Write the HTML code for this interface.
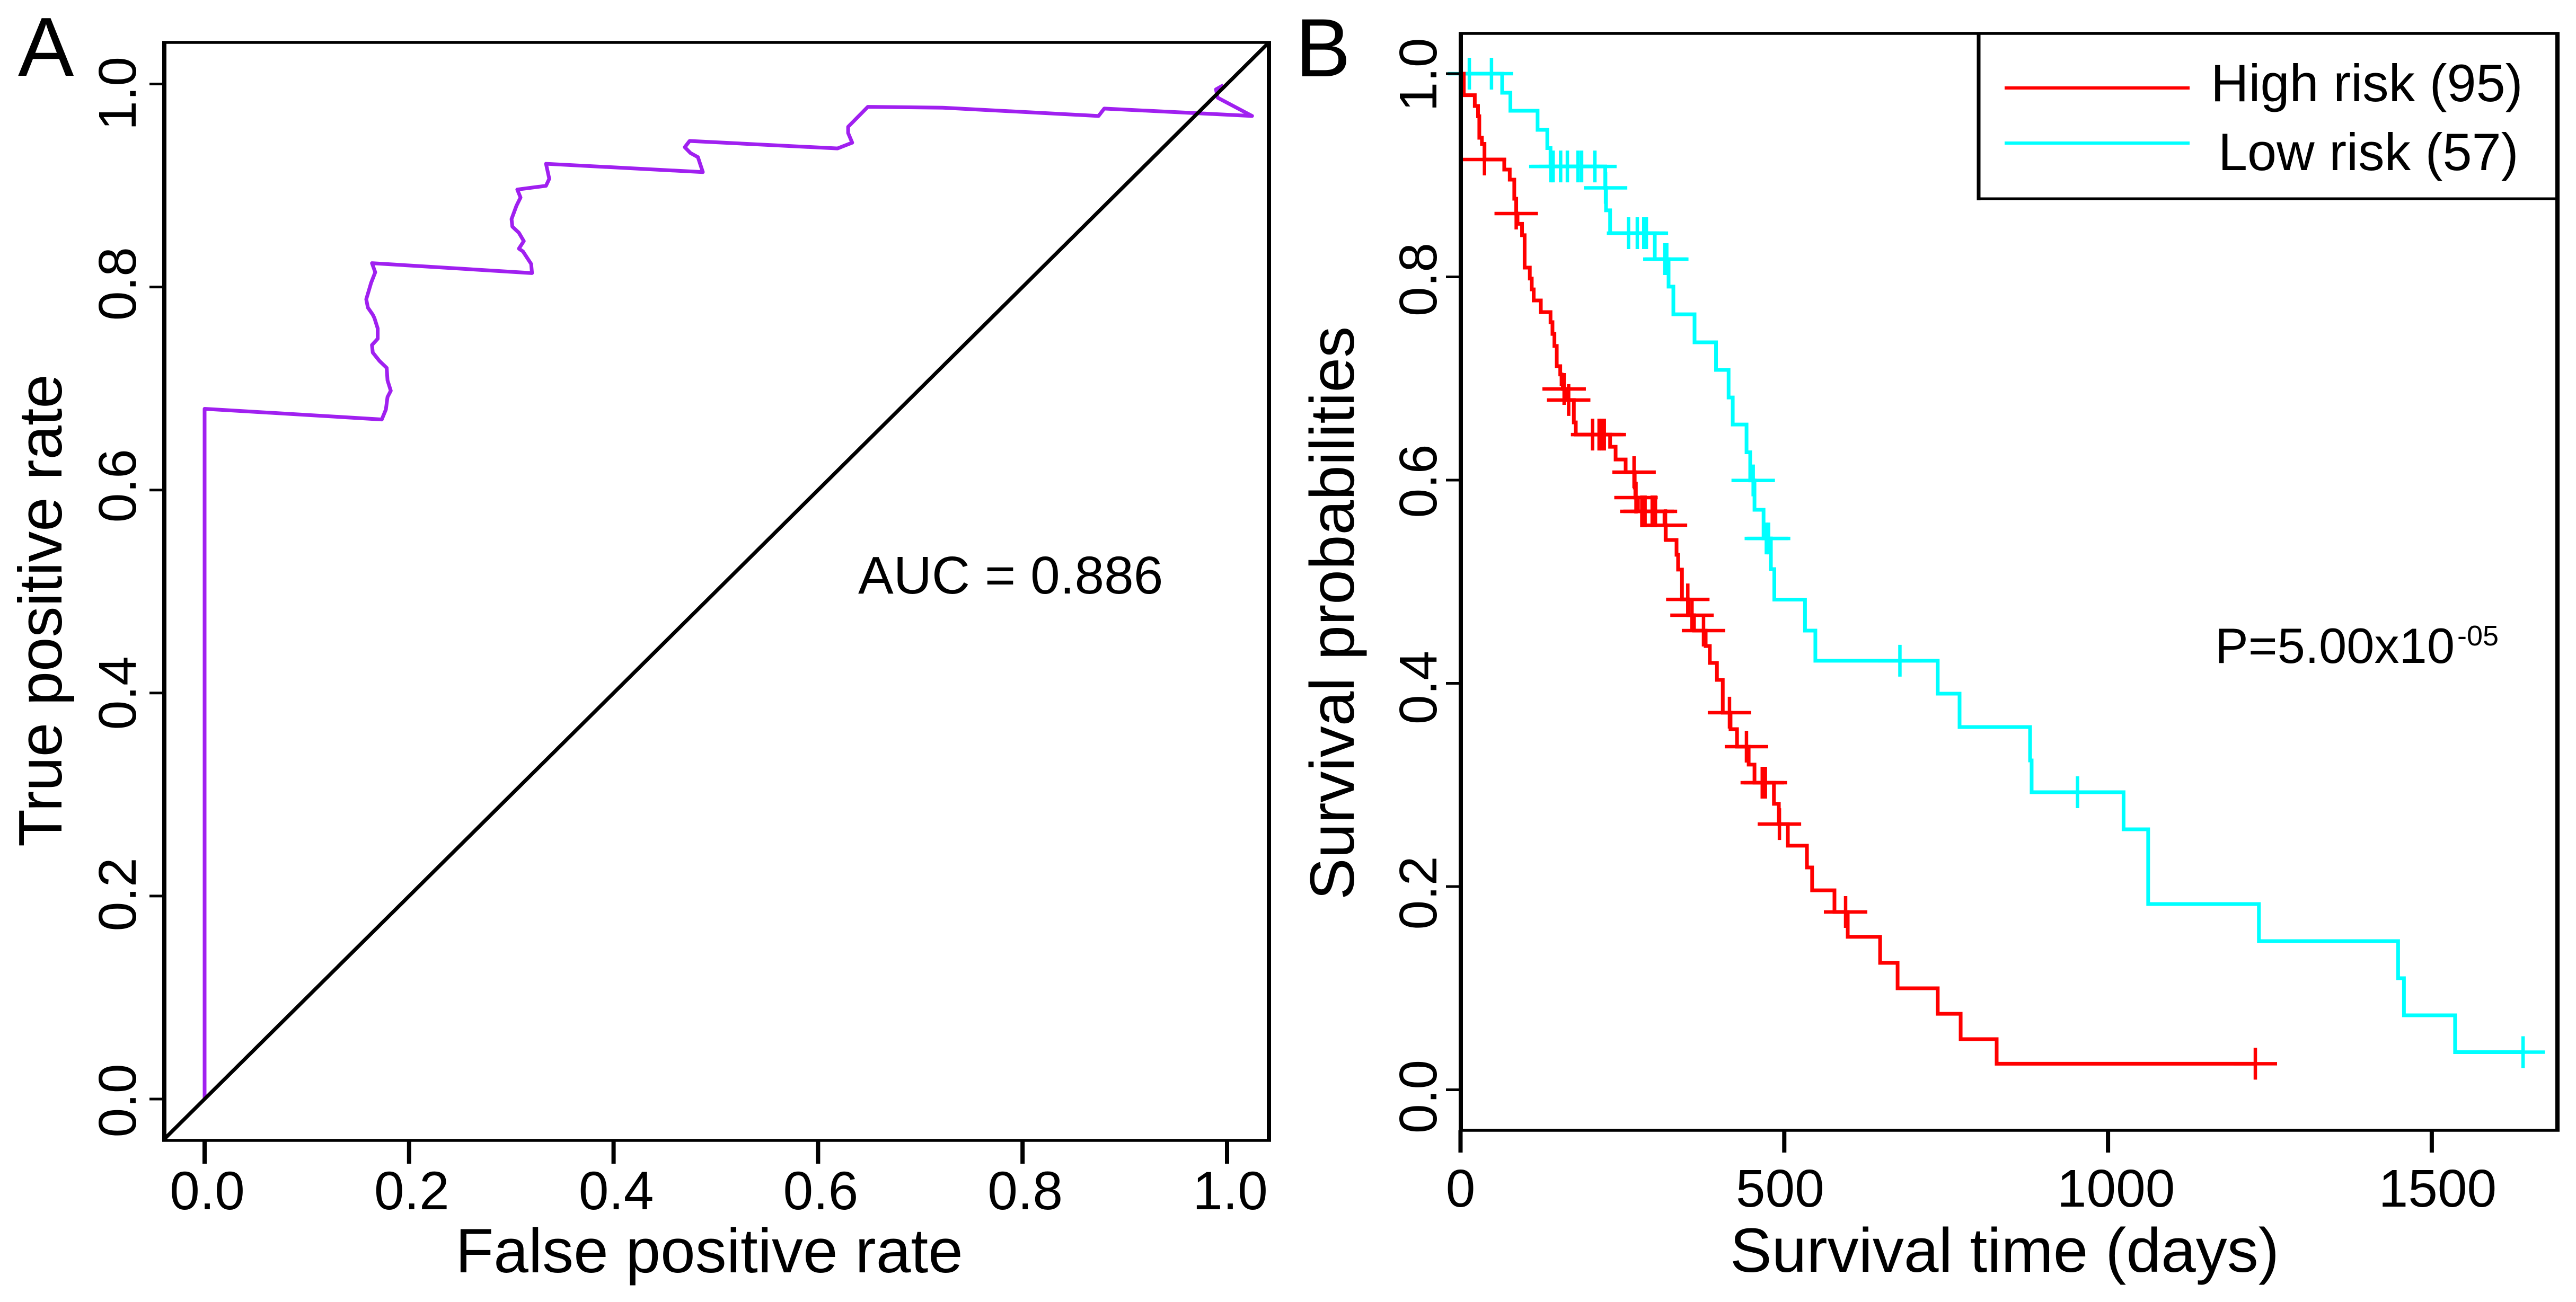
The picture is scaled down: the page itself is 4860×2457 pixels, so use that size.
<!DOCTYPE html>
<html lang="en">
<head>
<meta charset="utf-8">
<title>ROC curve and survival curves</title>
<style>
html,body{margin:0;padding:0;background:#fff;}
svg{display:block;}
text{font-family:"Liberation Sans",Arial,sans-serif;fill:#000;}
</style>
</head>
<body>
<svg id="fig" xmlns="http://www.w3.org/2000/svg" width="4860" height="2457" viewBox="0 0 4860 2457">
  <rect x="0" y="0" width="4860" height="2457" fill="#fff"/>
  <text x="34" y="143" font-size="158">A</text>
  <text x="2444" y="144" font-size="156">B</text>

  <g id="panelA"></g>
  <g id="panelB"></g>

  <text x="1338" y="2401" font-size="118" text-anchor="middle">False positive rate</text>
  <text x="116" y="1152" font-size="116" text-anchor="middle" transform="rotate(-90 116 1152)">True positive rate</text>
  <text x="1619" y="1120" font-size="100">AUC = 0.886</text>

  <text x="3264" y="2400" font-size="118">Survival time (days)</text>
  <text x="2554" y="1157" font-size="118" text-anchor="middle" transform="rotate(-90 2554 1157)">Survival probabilities</text>

  <text x="4179" y="1251" font-size="94">P=5.00x10</text>
  <text x="4636" y="1218" font-size="54">-05</text>

  <g>
    <line x1="3733" y1="63" x2="3733" y2="378" stroke="#000" stroke-width="7"/>
    <line x1="3730" y1="375" x2="4825" y2="375" stroke="#000" stroke-width="5"/>
    <line x1="3782" y1="166" x2="4131" y2="166" stroke="#ff0000" stroke-width="6"/>
    <line x1="3782" y1="270" x2="4131" y2="270" stroke="#00ffff" stroke-width="6"/>
    <text x="4171" y="191" font-size="99">High risk (95)</text>
    <text x="4185" y="321" font-size="99">Low risk (57)</text>
  </g>
</svg>
<script>
// ROC data
const rocFpr = [0,0,0.1733,0.1773,0.1789,0.1821,0.1789,0.1781,0.1709,0.1645,0.1637,0.1693,0.1693,0.1661,0.1645,0.1597,0.1581,0.1629,0.1669,0.1637,0.3202,0.3194,0.3114,0.3074,0.3122,0.3074,0.3010,0.3002,0.3050,0.3090,0.3058,0.3339,0.3371,0.3339,0.4873,0.4825,0.4752,0.4696,0.4744,0.6190,0.6334,0.6294,0.6294,0.6487,0.7234,0.8743,0.8799,1.0245,0.9908,0.9892,0.9964];
const rocTpr = [0,0.680,0.6695,0.6793,0.6916,0.6978,0.7080,0.7203,0.7273,0.7354,0.7428,0.7490,0.7592,0.7694,0.7727,0.7797,0.7879,0.8042,0.8145,0.8235,0.8137,0.8227,0.8350,0.8378,0.8452,0.8534,0.8595,0.8669,0.8800,0.8882,0.8960,0.8997,0.9066,0.9214,0.9132,0.9279,0.9320,0.9377,0.9439,0.9365,0.9422,0.9517,0.9578,0.9775,0.9766,0.9685,0.9758,0.9685,0.9865,0.9947,0.9988];
const diagonalEnds = [-0.04,1.04];
const rocTicks = [0,0.2,0.4,0.6,0.8,1];
const rocTickLabels = ["0.0","0.2","0.4","0.6","0.8","1.0"];

// Survival data
const highTimes = [5,22,27,29,33,37,67.5,76,83,86,88,95,99,107,110,113,124,139,142,145,148.6,154,156,158,164,175,178,231,239.5,255,269,270,274,315,317,333.6,336,342,351.6,360.6,378.6,385,396,405,417,427,445,454,484,491.6,505.5,535,543,577.5,598,648,675,737,772.4,828];
const highSurv  = [0.9788,0.9682,0.9581,0.9369,0.9309,0.9155,0.9056,0.8957,0.8769,0.8623,0.8522,0.8410,0.8091,0.7984,0.7877,0.7768,0.7653,0.7554,0.7439,0.7320,0.7121,0.7040,0.6944,0.6897,0.6788,0.6568,0.6448,0.6328,0.6203,0.6078,0.5927,0.5828,0.5692,0.5556,0.5411,0.5265,0.5119,0.4826,0.4670,0.4519,0.4367,0.4201,0.4034,0.3711,0.3549,0.3377,0.3200,0.3022,0.2814,0.2615,0.2402,0.2188,0.1963,0.1750,0.1505,0.1249,0.0999,0.0748,0.0498,0.0256];
const highCensor = [37,86,160,167,204,214,218,222,268,271,280,285,296,301,316.5,351,357.5,375.3,415.4,441.6,466,470.8,492.5,594.7,1227.5];
const lowTimes = [64.3,77,119,134,139,223.5,224.7,231,300,321.3,328.7,361.4,394.6,414,420.4,441.7,447.4,454,468,479.3,484.6,532,548,737,770.7,879.6,882,1024,1062,1233,1448,1457,1536];
const lowSurv  = [0.9812,0.9635,0.9447,0.9267,0.9087,0.8876,0.8655,0.8430,0.8175,0.7904,0.7632,0.7356,0.7085,0.6813,0.6547,0.6274,0.5997,0.5708,0.5426,0.5124,0.4824,0.4519,0.4222,0.3898,0.3570,0.3241,0.2928,0.2563,0.1828,0.1463,0.1098,0.0733,0.0370];
const lowCensor = [13.6,47.8,139.5,143,154.6,165,181.5,187,207.5,224,259.5,273,283,287,315.6,318.5,452,472.3,475.8,678.6,952.9,1641];
const survXTicks = [0,500,1000,1500];
const survXTickLabels = ["0","500","1000","1500"];
const survYTicks = [0,0.2,0.4,0.6,0.8,1];
const survYTickLabels = ["0.0","0.2","0.4","0.6","0.8","1.0"];

// Layout nudges for tick labels (pixels, not data)
const rocXNudge = [5,5,5,5,5,6];
const rocYNudge = [3,-3,0,-8,-6,18];
const survXNudge = [0,-8,15,11];
const survYNudge = [13,12,8,2,5,2];

// Axis functions
const rocX = v => 386 + v * 1929;
const rocY = v => 2074 - v * 1915.5;
const survX = t => 2755.5 + t * 1.2216;
const survY = s => 2056.5 - s * 1917.5;

const NS = "http://www.w3.org/2000/svg";
function mk(tag, attrs, parent){
  const el = document.createElementNS(NS, tag);
  for (const k in attrs) el.setAttribute(k, attrs[k]);
  parent.appendChild(el);
  return el;
}
function stepPath(times, surv, end){
  let d = "M" + survX(0) + " " + survY(1);
  times.forEach((t,i)=>{ d += "H" + survX(t) + "V" + survY(surv[i]); });
  return d + "H" + survX(end);
}
function levelAt(times, surv, t){
  let s = 1;
  times.forEach((tt,i)=>{ if (tt <= t) s = surv[i]; });
  return s;
}

const A = document.getElementById("panelA");
const B = document.getElementById("panelB");

// --- Panel A ---
const rocCurve = mk("polyline",{points:rocFpr.map((f,i)=>rocX(f)+","+rocY(rocTpr[i])).join(" "),fill:"none",stroke:"#a020f0","stroke-width":7,"stroke-linejoin":"round"},A);



const diag = mk("line",{x1:rocX(diagonalEnds[0]),y1:rocY(diagonalEnds[0]),x2:rocX(diagonalEnds[1]),y2:rocY(diagonalEnds[1]),stroke:"#000","stroke-width":7},A);



rocTicks.forEach((v,i)=>{
  const xt = mk("line",{x1:rocX(v),y1:2152,x2:rocX(v),y2:2196,stroke:"#000","stroke-width":8},A);
  
  
  const xl = mk("text",{x:rocX(v)+rocXNudge[i],y:2282,"font-size":102,"text-anchor":"middle"},A);
  xl.textContent = rocTickLabels[i];
  
  
  const yt = mk("line",{x1:282,y1:rocY(v),x2:310,y2:rocY(v),stroke:"#000","stroke-width":5},A);
  
  
  const ly = rocY(v)+rocYNudge[i];
  const yl = mk("text",{x:256,y:ly,"font-size":100,"text-anchor":"middle",transform:"rotate(-90 256 "+ly+")"},A);
  yl.textContent = rocTickLabels[i];
  
  
});

const aTop = mk("line",{x1:306,y1:80,x2:2398,y2:80,stroke:"#000","stroke-width":5.5},A);


const aBottom = mk("line",{x1:306,y1:2152,x2:2398,y2:2152,stroke:"#000","stroke-width":5.5},A);


const aLeft = mk("line",{x1:310,y1:78,x2:310,y2:2154,stroke:"#000","stroke-width":8},A);


const aRight = mk("line",{x1:2394,y1:78,x2:2394,y2:2154,stroke:"#000","stroke-width":8},A);



// --- Panel B ---
const lowEnd = lowCensor[lowCensor.length-1];
const highEnd = highCensor[highCensor.length-1];

const lowLine = mk("path",{d:stepPath(lowTimes,lowSurv,lowEnd),fill:"none",stroke:"#00ffff","stroke-width":7},B);


lowCensor.forEach(t=>{
  const s = levelAt(lowTimes,lowSurv,t);
  const c = mk("path",{d:"M"+(survX(t)-41)+" "+survY(s)+"h82M"+survX(t)+" "+(survY(s)-30)+"v60",stroke:"#00ffff","stroke-width":6.5,fill:"none"},B);
  
  
});

const highLine = mk("path",{d:stepPath(highTimes,highSurv,highEnd),fill:"none",stroke:"#ff0000","stroke-width":7},B);


highCensor.forEach(t=>{
  const s = levelAt(highTimes,highSurv,t);
  const c = mk("path",{d:"M"+(survX(t)-41)+" "+survY(s)+"h82M"+survX(t)+" "+(survY(s)-30)+"v60",stroke:"#ff0000","stroke-width":6.5,fill:"none"},B);
  
  
});

survXTicks.forEach((v,i)=>{
  const xt = mk("line",{x1:survX(v),y1:2133,x2:survX(v),y2:2175,stroke:"#000","stroke-width":8},B);
  
  
  const xl = mk("text",{x:survX(v)+survXNudge[i],y:2277,"font-size":100,"text-anchor":"middle"},B);
  xl.textContent = survXTickLabels[i];
  
  
});
survYTicks.forEach((v,i)=>{
  const yt = mk("line",{x1:2728,y1:survY(v),x2:2756,y2:survY(v),stroke:"#000","stroke-width":5},B);
  
  
  const ly = survY(v)+survYNudge[i];
  const yl = mk("text",{x:2710,y:ly,"font-size":100,"text-anchor":"middle",transform:"rotate(-90 2710 "+ly+")"},B);
  yl.textContent = survYTickLabels[i];
  
  
});

const bTop = mk("line",{x1:2752,y1:63,x2:4829,y2:63,stroke:"#000","stroke-width":5.5},B);


const bBottom = mk("line",{x1:2752,y1:2133,x2:4829,y2:2133,stroke:"#000","stroke-width":5.5},B);


const bLeft = mk("line",{x1:2756,y1:61,x2:2756,y2:2135,stroke:"#000","stroke-width":8},B);


const bRight = mk("line",{x1:4825,y1:61,x2:4825,y2:2135,stroke:"#000","stroke-width":8},B);


</script>
</body>
</html>
